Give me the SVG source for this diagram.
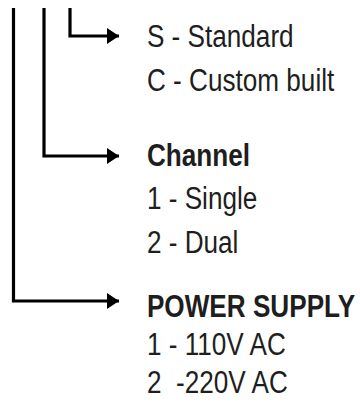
<svg xmlns="http://www.w3.org/2000/svg" width="360" height="406" viewBox="0 0 360 406">
<style>
.ln{fill:none;stroke:#000;stroke-width:3.2}
.t{font-family:"Liberation Sans",Arial,sans-serif;font-size:31.5px;fill:#1e1e1e;white-space:pre}
.b{font-weight:bold}
</style>
<defs>
<marker id="ah" markerWidth="12" markerHeight="16" refX="12" refY="8" orient="auto" markerUnits="userSpaceOnUse">
<path d="M0,0 L12,8 L0,16 Z" fill="#000"/>
</marker>
</defs>
<rect width="360" height="406" fill="#fff"/>
<g id="connectors">
<path class="ln" d="M13.5,8 V301 H119" marker-end="url(#ah)"/>
<path class="ln" d="M44,8 V156 H119" marker-end="url(#ah)"/>
<path class="ln" d="M70,8 V36 H119" marker-end="url(#ah)"/>
</g>
<g id="node-type" transform="scale(0.83,1)">
<text class="t" x="177" y="47">S - Standard</text>
<text class="t" x="177" y="91">C - Custom built</text>
</g>
<g id="node-channel" transform="scale(0.83,1)">
<text class="t b" x="177" y="166">Channel</text>
<text class="t" x="177" y="209">1 - Single</text>
<text class="t" x="177" y="253">2 - Dual</text>
</g>
<g id="node-power" transform="scale(0.83,1)">
<text class="t b" x="177" y="317">POWER SUPPLY</text>
<text class="t" x="177" y="355">1 - 110V AC</text>
<text class="t" x="177" y="393">2  -220V AC</text>
</g>
</svg>
